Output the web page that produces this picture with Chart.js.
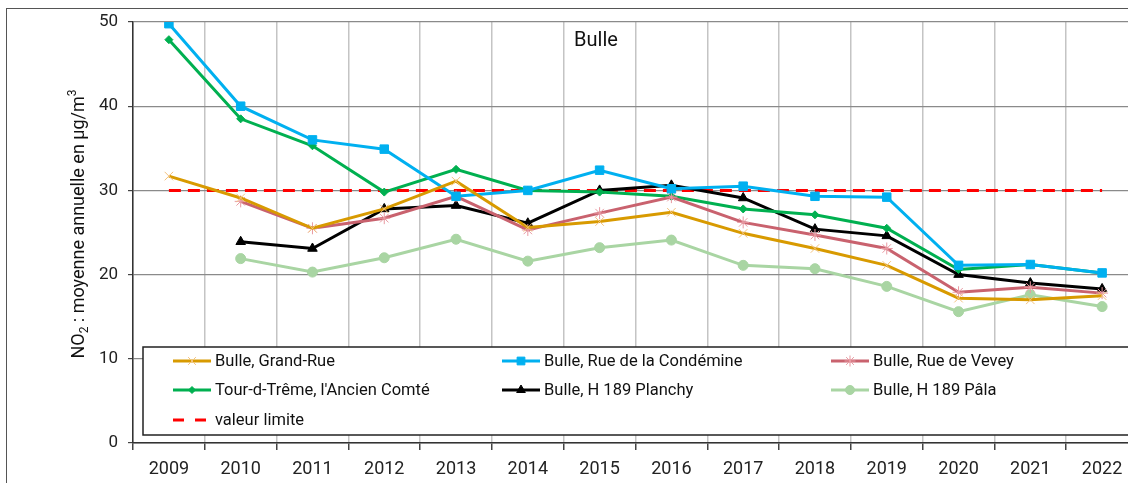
<!DOCTYPE html>
<html>
<head>
<meta charset="utf-8">
<script src="https://cdn.jsdelivr.net/npm/chart.js@4.4.0/dist/chart.umd.min.js"></script>
<style>
  html, body { margin: 0; padding: 0; background: #fff; overflow: hidden; }
  #wrap { position: relative; width: 1128px; height: 483px; overflow: hidden; }
  canvas { position: absolute; left: 0; top: 0; }
</style>
</head>
<body>
<div id="wrap"><canvas id="chart" width="1160" height="483" style="width:1160px;height:483px"></canvas></div>
<script>
const years = ['2009', '2010', '2011', '2012', '2013', '2014', '2015', '2016', '2017', '2018', '2019', '2020', '2021', '2022'];

const grandRue  = [31.7, 29.1, 25.5, 27.8, 31.1, 25.6, 26.3, 27.4, 24.9, 23.1, 21.1, 17.2, 17.0, 17.5];
const condemine = [49.8, 40.0, 36.0, 34.9, 29.3, 30.0, 32.4, 30.2, 30.5, 29.3, 29.2, 21.1, 21.2, 20.2];
const vevey     = [null, 28.7, 25.5, 26.7, 29.3, 25.3, 27.3, 29.2, 26.2, 24.7, 23.1, 17.9, 18.5, 17.8];
const tourTreme = [47.9, 38.5, 35.3, 29.8, 32.5, 30.0, 29.8, 29.3, 27.8, 27.1, 25.5, 20.6, 21.2, 20.2];
const planchy   = [null, 23.9, 23.1, 27.8, 28.2, 26.1, 30.0, 30.6, 29.1, 25.4, 24.6, 20.0, 19.0, 18.3];
const pala      = [null, 21.9, 20.3, 22.0, 24.2, 21.6, 23.2, 24.1, 21.1, 20.7, 18.6, 15.6, 17.6, 16.2];
const limite    = [30, 30, 30, 30, 30, 30, 30, 30, 30, 30, 30, 30, 30, 30];

const yTicks = [0, 10, 20, 30, 40, 50];

function serie(label, data, color, pointColor, style, radius) {
  return {
    label: label,
    data: data,
    borderColor: color,
    borderWidth: 3,
    pointStyle: style,
    pointRadius: radius,
    pointBackgroundColor: pointColor,
    pointBorderColor: pointColor,
    pointBorderWidth: 1,
    tension: 0,
  };
}

// white page + outer frame
const frame = {
  id: 'frame',
  beforeDraw(chart) {
    const ctx = chart.ctx;
    ctx.save();
    ctx.fillStyle = '#fff';
    ctx.fillRect(0, 0, chart.width, chart.height);
    ctx.strokeStyle = '#555';
    ctx.lineWidth = 1;
    ctx.strokeRect(6.5, 8.5, 1400, 700);
    ctx.restore();
  }
};

// legend box drawn inside the plot
const boxLegend = {
  id: 'boxLegend',
  afterDatasetsDraw(chart) {
    const ctx = chart.ctx;
    ctx.save();
    ctx.fillStyle = '#fff';
    ctx.strokeStyle = '#222';
    ctx.lineWidth = 1.5;
    ctx.fillRect(143, 347, 1050, 88);
    ctx.strokeRect(143, 347, 1050, 88);
    const colX = [173, 502, 831];
    const rowY = [361, 390, 420];
    chart.data.datasets.forEach((ds, i) => {
      const x = colX[i % 3];
      const y = rowY[Math.floor(i / 3)];
      ctx.strokeStyle = ds.borderColor;
      ctx.lineWidth = ds.borderWidth;
      if (ds.borderDash) {
        ctx.setLineDash([11, 11]);
        ctx.beginPath(); ctx.moveTo(x, y); ctx.lineTo(x + 35, y); ctx.stroke();
        ctx.setLineDash([]);
      } else {
        ctx.beginPath(); ctx.moveTo(x, y); ctx.lineTo(x + 38, y); ctx.stroke();
      }
      if (ds.pointRadius > 0) {
        ctx.fillStyle = ds.pointBackgroundColor;
        ctx.strokeStyle = ds.pointBorderColor;
        ctx.lineWidth = 1;
        Chart.helpers.drawPoint(ctx, { pointStyle: ds.pointStyle, radius: ds.pointRadius - 0.5, rotation: 0, borderWidth: 1 }, x + 19, y);
      }
      ctx.fillStyle = '#111';
      ctx.font = '16.5px Roboto';
      ctx.textBaseline = 'middle';
      ctx.textAlign = 'left';
      ctx.fillText(ds.label, x + 42, y + 1);
    });
    ctx.restore();
  }
};

// chart title and y axis title with sub/superscripts
const texts = {
  id: 'texts',
  afterDraw(chart) {
    const ctx = chart.ctx;
    ctx.save();
    ctx.fillStyle = '#111';
    ctx.font = '20px Roboto';
    ctx.textAlign = 'center';
    ctx.textBaseline = 'middle';
    ctx.fillText('Bulle', 596, 41);

    const parts = [
      { t: 'NO', size: 18, dy: 0 },
      { t: '2', size: 12, dy: 6 },
      { t: ' : moyenne annuelle en µg/m', size: 18, dy: 0 },
      { t: '3', size: 12, dy: -6 },
    ];
    let total = 0;
    parts.forEach(p => { ctx.font = p.size + 'px Roboto'; p.w = ctx.measureText(p.t).width; total += p.w; });
    ctx.translate(79, 224);
    ctx.rotate(-Math.PI / 2);
    ctx.textAlign = 'left';
    let x = -total / 2;
    parts.forEach(p => {
      ctx.font = p.size + 'px Roboto';
      ctx.fillText(p.t, x, p.dy);
      x += p.w;
    });
    ctx.restore();
  }
};

const limiteSet = serie('valeur limite', limite, '#ff0000', '#ff0000', 'circle', 0);
limiteSet.borderDash = [12, 7];

new Chart(document.getElementById('chart'), {
  type: 'line',
  data: {
    labels: years,
    datasets: [
      serie('Bulle, Grand-Rue', grandRue, '#d89a00', '#f3c27e', 'crossRot', 6),
      serie('Bulle, Rue de la Condémine', condemine, '#00b0f0', '#00b0f0', 'rect', 6),
      serie('Bulle, Rue de Vevey', vevey, '#c9626e', '#e89aa2', 'star', 6),
      serie("Tour-d-Trême, l'Ancien Comté", tourTreme, '#00b050', '#00b050', 'rectRot', 4),
      serie('Bulle, H 189 Planchy', planchy, '#000000', '#000000', 'triangle', 5.5),
      serie('Bulle, H 189 Pâla', pala, '#a9d5a3', '#a9d5a3', 'circle', 5),
      limiteSet,
    ],
  },
  options: {
    responsive: false,
    devicePixelRatio: 1,
    animation: false,
    spanGaps: false,
    layout: { padding: { left: 0, top: 22, right: 22, bottom: 0 } },
    plugins: {
      legend: { display: false },
      tooltip: { enabled: false },
    },
    scales: {
      x: {
        offset: true,
        grid: { offset: true, color: '#c4c4c4', lineWidth: 1.5, tickLength: 7, tickColor: '#444' },
        border: { color: '#333', width: 1.5 },
        ticks: { color: '#222', font: { family: 'Roboto', size: 18 }, padding: 9, maxRotation: 0, autoSkip: false },
        afterFit(scale) { scale.height = 40; },
      },
      y: {
        min: 0,
        max: 50,
        afterBuildTicks(scale) { scale.ticks = yTicks.map(v => ({ value: v })); },
        ticks: { color: '#222', font: { family: 'Roboto', size: 17 }, padding: 10 },
        grid: { color: '#8a8a8a', lineWidth: 1.2, tickLength: 5, tickColor: '#444' },
        border: { color: '#333', width: 1.5 },
        afterFit(scale) { scale.width = 133; },
      },
    },
  },
  plugins: [frame, boxLegend, texts],
});
</script>
</body>
</html>
